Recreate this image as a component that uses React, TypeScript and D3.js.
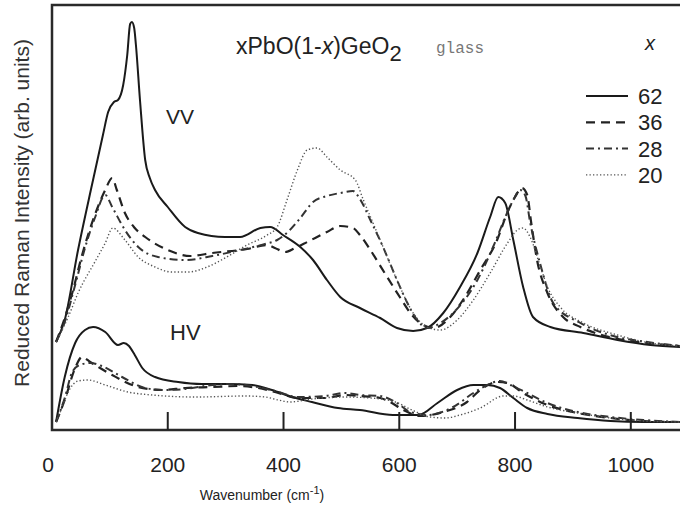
import React from "react";
import * as d3 from "d3";

// Wavenumber (cm^-1), reduced Raman intensity (arb. units)
const vv62: [number, number][] = [[7,88],[22,110],[45,180],[69,245],[88,295],[97,318],[107,328],[114,330],[123,345],[130,375],[135,406],[138,408],[142,402],[145,385],[152,330],[161,270],[169,252],[178,240],[200,223],[230,203],[252,197],[299,193],[325,193],[360,202],[377,203],[399,195],[429,183],[451,170],[475,150],[498,133],[532,122],[567,112],[596,102],[624,99],[648,102],[676,117],[705,143],[735,177],[757,213],[771,233],[783,227],[797,190],[814,143],[831,113],[861,103],[918,97],[977,90],[1034,85],[1085,83]];
const vv36: [number, number][] = [[7,88],[22,112],[35,137],[52,175],[74,215],[92,240],[104,252],[112,240],[126,217],[143,202],[161,193],[200,180],[239,174],[277,177],[337,181],[372,185],[385,182],[403,178],[420,182],[441,188],[475,198],[498,204],[520,202],[532,195],[550,180],[579,153],[602,132],[619,117],[636,107],[659,102],[688,113],[710,130],[740,160],[769,190],[787,218],[800,233],[812,242],[821,235],[828,207],[838,170],[856,137],[883,113],[913,103],[970,92],[1029,87],[1085,84]];
const vv28: [number, number][] = [[7,88],[22,108],[40,145],[57,182],[74,212],[92,235],[104,223],[126,200],[149,183],[183,173],[230,170],[277,174],[325,180],[368,186],[389,190],[411,200],[429,212],[451,228],[475,234],[498,237],[520,239],[532,231],[550,210],[572,183],[596,150],[614,127],[631,110],[648,102],[671,107],[693,117],[735,150],[762,183],[787,218],[797,230],[809,240],[818,234],[826,208],[844,165],[866,127],[913,107],[970,94],[1029,88],[1085,84]];
const vv20: [number, number][] = [[7,88],[28,113],[45,137],[74,168],[92,187],[105,202],[126,190],[149,173],[178,163],[207,158],[235,158],[268,163],[302,173],[337,185],[372,195],[389,203],[406,230],[424,260],[441,280],[458,282],[475,273],[498,260],[524,250],[538,230],[567,190],[596,150],[624,117],[648,103],[671,100],[700,110],[728,130],[757,157],[787,187],[804,200],[814,202],[826,193],[844,163],[856,143],[878,123],[918,107],[977,95],[1034,87],[1085,84]];
const hv62: [number, number][] = [[7,8],[22,53],[40,87],[57,100],[71,103],[92,98],[114,85],[124,87],[133,84],[143,75],[156,62],[178,53],[218,48],[259,46],[304,46],[346,45],[380,40],[415,33],[449,28],[494,22],[532,20],[589,15],[633,15],[666,27],[700,40],[728,45],[752,45],[774,42],[797,32],[821,22],[856,16],[908,12],[965,9],[1022,8],[1085,8]];
const hv36: [number, number][] = [[7,8],[22,30],[40,62],[52,73],[66,68],[83,62],[104,55],[149,43],[190,40],[230,42],[277,43],[322,44],[356,42],[391,37],[425,32],[472,32],[506,35],[532,34],[567,32],[584,28],[607,20],[636,14],[676,18],[717,28],[740,40],[769,48],[787,47],[814,37],[856,25],[908,17],[965,12],[1022,9],[1085,8]];
const hv28: [number, number][] = [[7,8],[22,32],[35,58],[48,65],[66,67],[86,64],[121,53],[161,42],[195,40],[230,41],[277,45],[311,46],[346,44],[391,38],[425,33],[472,34],[506,37],[532,35],[567,34],[596,27],[619,18],[648,15],[693,23],[728,37],[752,45],[774,49],[792,45],[821,37],[856,27],[908,18],[965,13],[1022,10],[1085,8]];
const hv20: [number, number][] = [[7,8],[17,22],[28,38],[45,49],[62,50],[92,45],[131,38],[173,35],[247,33],[334,34],[368,33],[391,30],[411,28],[449,31],[506,33],[550,32],[593,28],[622,20],[653,13],[679,12],[705,15],[740,22],[780,34],[797,34],[821,30],[856,23],[908,17],[965,12],[1022,9],[1085,8]];

const xTicks = [0, 200, 400, 600, 800, 1000];
const legendLabels = ["62", "36", "28", "20"];

const styles = [
  { dash: "none", width: 2, color: "#1a1a1a" },
  { dash: "9,6", width: 2.2, color: "#222" },
  { dash: "8,4,2,4", width: 2, color: "#333" },
  { dash: "1.3,2.2", width: 1.4, color: "#555" },
];

export default function App() {
  const left = 52, top = 5, bottom = 430;
  const x = d3.scaleLinear().domain([0, 1085]).range([left, 680]);
  const y = d3.scaleLinear().domain([0, 425]).range([bottom, top]);
  const line = d3
    .line<[number, number]>()
    .x((d) => x(d[0]))
    .y((d) => y(d[1]))
    .curve(d3.curveMonotoneX);
  const vv = [vv62, vv36, vv28, vv20];
  const hv = [hv62, hv36, hv28, hv20];
  const font = "'Liberation Sans', Arial, sans-serif";

  return (
    <svg
      width={680}
      height={508}
      style={{ position: "absolute", left: 0, top: 0, background: "#fff" }}
      fontFamily={font}
    >
      <rect x={0} y={0} width={680} height={508} fill="#fff" />
      {[...vv, ...hv].map((d, i) => {
        const s = styles[i % 4];
        return (
          <path
            key={i}
            d={line(d) || ""}
            fill="none"
            stroke={s.color}
            strokeWidth={s.width}
            strokeDasharray={s.dash}
            strokeLinejoin="round"
          />
        );
      })}
      {/* frame */}
      <path
        d={`M690,${top} H${left} V${bottom} H690`}
        fill="none"
        stroke="#2a2a2a"
        strokeWidth={2.5}
      />
      {xTicks.filter((t) => t > 0).map((t) => (
        <line key={t} x1={x(t)} x2={x(t)} y1={bottom} y2={bottom - 18} stroke="#222" strokeWidth={2} />
      ))}
      {xTicks.map((t) => (
        <text key={t} x={x(t) - (t === 0 ? 4 : 0)} y={472} fontSize={21} textAnchor="middle" fill="#222">
          {t}
        </text>
      ))}
      <text x={262} y={500} fontSize={14} textAnchor="middle" fill="#222">
        Wavenumber (cm
        <tspan dy={-6} fontSize={11}>-1</tspan>
        <tspan dy={6}>)</tspan>
      </text>
      <text
        transform="translate(29,213) rotate(-90)"
        fontSize={21}
        textAnchor="middle"
        fill="#333"
      >
        Reduced Raman Intensity (arb. units)
      </text>
      <text x={236} y={54} fontSize={23} fill="#222">
        xPbO(1-<tspan fontStyle="italic">x</tspan>)GeO
        <tspan dy={7} fontSize={22}>2</tspan>
      </text>
      <text x={436} y={53} fontSize={16} fill="#777" fontFamily="'Liberation Mono', monospace">
        glass
      </text>
      <text x={650} y={50} fontSize={20} fontStyle="italic" textAnchor="middle" fill="#222">
        x
      </text>
      <text x={166} y={124} fontSize={21} fill="#222">VV</text>
      <text x={170} y={340} fontSize={22} fill="#222">HV</text>
      {legendLabels.map((lab, i) => {
        const ly = 96 + i * 26.3;
        const s = styles[i];
        return (
          <g key={lab}>
            <line
              x1={586}
              x2={628}
              y1={ly}
              y2={ly}
              stroke={s.color}
              strokeWidth={s.width}
              strokeDasharray={s.dash}
            />
            <text x={638} y={ly + 8} fontSize={22} fill="#222">
              {lab}
            </text>
          </g>
        );
      })}
    </svg>
  );
}
